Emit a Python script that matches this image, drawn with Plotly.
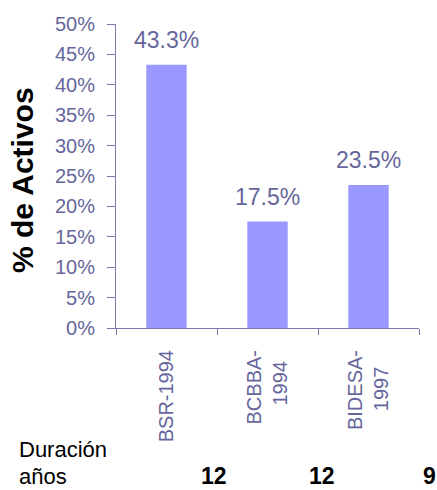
import plotly.graph_objects as go

# Chart data
categories = ["BSR-1994", "BCBBA-<br>1994&nbsp;&nbsp;", "BIDESA-<br>1997&nbsp;&nbsp;&nbsp;"]
activos = [0.433, 0.175, 0.235]
duracion = [12, 12, 9]

FONT = "Liberation Sans, Arial, sans-serif"
TEXT_COLOR = "#66669c"
AXIS_COLOR = "#7a7aaa"
BAR_COLOR = "#9999ff"

W, H = 437, 490
L, R, T, B = 116, 18, 24, 162
PW, PH = W - L - R, H - T - B


def px_x(x):
    return (x - L) / PW


def px_y(y):
    return (H - B - y) / PH


fig = go.Figure(
    go.Bar(
        x=categories,
        y=activos,
        width=0.4,
        marker=dict(color=BAR_COLOR, line=dict(width=0)),
        hoverinfo="skip",
    )
)

annotations = []

# value labels above the bars
for cat, v in zip(categories, activos):
    annotations.append(dict(
        x=cat, y=v, xref="x", yref="y",
        text=f"{v * 100:.1f}%",
        showarrow=False, yanchor="bottom", yshift=10,
        font=dict(family=FONT, size=23, color=TEXT_COLOR),
    ))

# y-axis title
annotations.append(dict(
    x=px_x(23), y=px_y(180), xref="paper", yref="paper",
    text="<b>% de Activos</b>", textangle=-90, showarrow=False,
    xanchor="center", yanchor="middle",
    font=dict(family=FONT, size=30, color="#000000"),
))

# duration row under the chart
annotations.append(dict(
    x=px_x(17), y=px_y(449), xref="paper", yref="paper",
    text="Duración", showarrow=False, xanchor="left", yanchor="middle",
    font=dict(family=FONT, size=22, color="#000000"),
))
annotations.append(dict(
    x=px_x(17), y=px_y(476), xref="paper", yref="paper",
    text="años", showarrow=False, xanchor="left", yanchor="middle",
    font=dict(family=FONT, size=22, color="#000000"),
))
dur_x = [214, 322, 429]
for xp, d in zip(dur_x, duracion):
    annotations.append(dict(
        x=px_x(xp), y=px_y(476), xref="paper", yref="paper",
        text=f"<b>{d}</b>", showarrow=False, xanchor="center", yanchor="middle",
        font=dict(family=FONT, size=23, color="#000000"),
    ))

fig.update_layout(
    width=W, height=H,
    margin=dict(l=L, r=R, t=T, b=B, pad=0),
    paper_bgcolor="white", plot_bgcolor="white",
    showlegend=False,
    annotations=annotations,
    xaxis=dict(
        type="category",
        range=[-0.5, 2.5],
        showline=True, linecolor=AXIS_COLOR, linewidth=1,
        ticks="outside", ticklen=6, tickcolor=AXIS_COLOR, tickson="boundaries",
        tickangle=-90, ticklabelstandoff=13,
        tickfont=dict(family=FONT, size=20, color=TEXT_COLOR),
        showgrid=False, zeroline=False,
    ),
    yaxis=dict(
        range=[0, 0.5], dtick=0.05, tick0=0, tickformat=".0%",
        showline=True, linecolor=AXIS_COLOR, linewidth=1,
        ticks="outside", ticklen=8, tickcolor=AXIS_COLOR,
        ticklabelstandoff=8,
        tickfont=dict(family=FONT, size=20, color=TEXT_COLOR),
        showgrid=False, zeroline=False,
    ),
)

fig.write_html("out.html")
